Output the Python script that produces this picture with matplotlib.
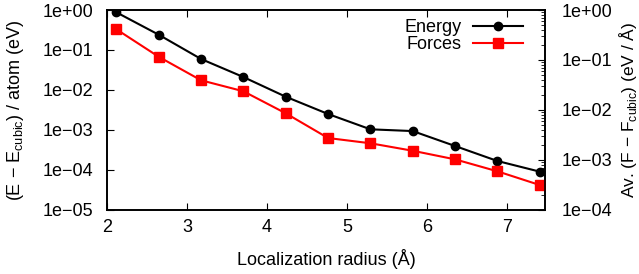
import numpy as np
import matplotlib
matplotlib.use("Agg")
import matplotlib.pyplot as plt

# Localization radius: 4..14 bohr expressed in Angstrom
radius = [2.117, 2.646, 3.175, 3.704, 4.233, 4.763, 5.292, 5.821, 6.350, 6.879, 7.408]
energy = [0.875, 0.241, 0.0596, 0.0211, 0.0068, 0.00251, 0.00104, 0.00094, 0.000398, 0.000168, 0.000091]
forces = [0.411, 0.116, 0.0393, 0.0237, 0.0086, 0.00275, 0.00216, 0.00153, 0.00103, 0.000594, 0.000316]

left_ticks = ["1e\u221205", "1e\u221204", "1e\u221203", "1e\u221202", "1e\u221201", "1e+00"]
right_ticks = ["1e\u221204", "1e\u221203", "1e\u221202", "1e\u221201", "1e+00"]

plt.rcParams["font.family"] = ["Liberation Sans", "DejaVu Sans"]
plt.rcParams["font.size"] = 13
plt.rcParams["mathtext.fontset"] = "custom"
plt.rcParams["mathtext.rm"] = "Liberation Sans"

fig = plt.figure(figsize=(6.39, 2.74), dpi=100)
ax = fig.add_axes([0.1675, 0.2336, 0.6855, 0.7299])
ax2 = ax.twinx()

l1, = ax.plot(radius, energy, color="black", lw=1.5, marker="o", ms=6, label="Energy")
l2, = ax2.plot(radius, forces, color="red", lw=1.5, marker="s", ms=6.5, label="Forces")

ax.set_yscale("log")
ax2.set_yscale("log")
ax.set_xlim(2, 7.475)
ax.set_ylim(1e-5, 1e0)
ax2.set_ylim(1e-4, 1e0)
ax.set_xticks([2, 3, 4, 5, 6, 7])

ax.set_yticks([10.0 ** k for k in range(-5, 1)])
ax.set_yticklabels(left_ticks)
ax2.set_yticks([10.0 ** k for k in range(-4, 1)])
ax2.set_yticklabels(right_ticks)

ax.tick_params(axis="x", which="both", direction="in", top=True, length=5, pad=6.5)
ax.tick_params(axis="y", which="major", direction="in", length=5, right=False, pad=10)
ax.tick_params(axis="y", which="minor", direction="in", length=3, right=False)
ax2.tick_params(axis="y", which="major", direction="in", length=5, pad=12)
ax2.tick_params(axis="y", which="minor", direction="in", length=3)
for a in (ax, ax2):
    for s in a.spines.values():
        s.set_linewidth(1.2)

ax.set_xlabel("Localization radius (Å)", labelpad=9)
ax.set_ylabel("(E \u2212 E$_{\\mathrm{cubic}}$) / atom (eV)", labelpad=12)
ax2.set_ylabel("Av. (F \u2212 F$_{\\mathrm{cubic}}$) (eV / Å)", labelpad=3, fontsize=12.5)

ax2.legend([l1, l2], ["Energy", "Forces"], loc="upper right", frameon=False,
           markerfirst=False, handlelength=2.8, handletextpad=0.6,
           labelspacing=0.0, borderpad=0, borderaxespad=0,
           bbox_to_anchor=(0.95, 0.955))

fig.savefig("out.png", dpi=100)
